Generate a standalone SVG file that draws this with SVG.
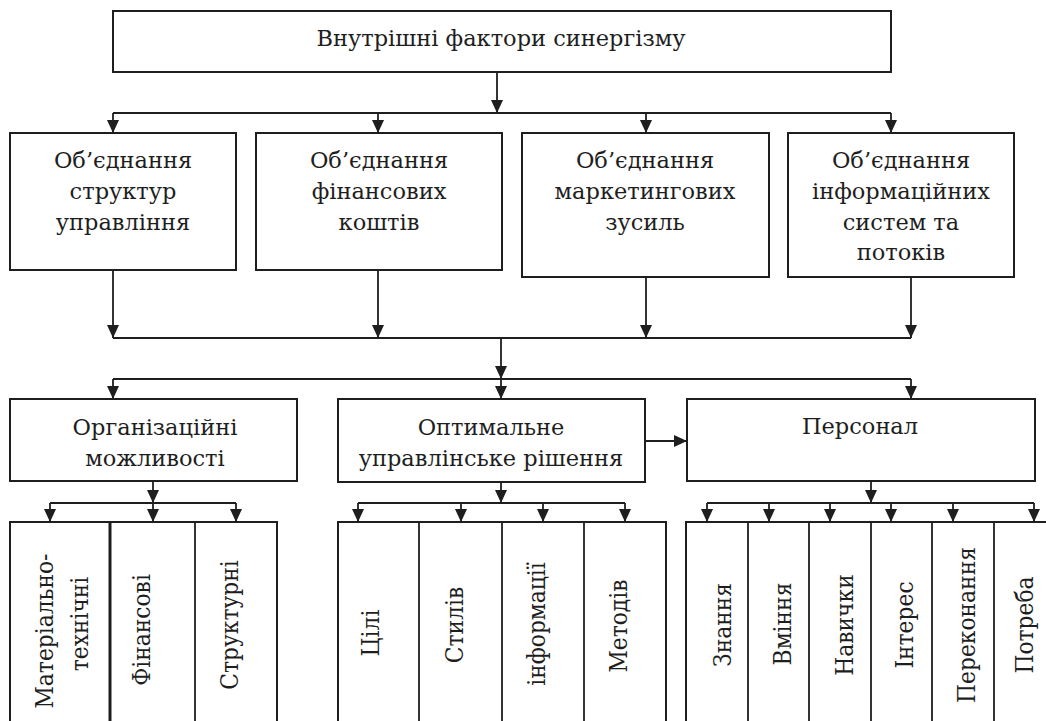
<svg xmlns="http://www.w3.org/2000/svg" width="1046" height="721" viewBox="0 0 1046 721">
<defs>
<marker id="ah" markerWidth="13" markerHeight="12" viewBox="0 0 13 12" refX="13" refY="6" orient="auto" markerUnits="userSpaceOnUse">
<path d="M0,0 L13,6 L0,12 Z" fill="#1e1e1e"/>
</marker>
<style>
.box{fill:#fff;stroke:#1e1e1e;stroke-width:2}
.ln{fill:none;stroke:#1e1e1e;stroke-width:1.8}
.arr{fill:none;stroke:#1e1e1e;stroke-width:1.8;marker-end:url(#ah)}
.t{font-family:'DejaVu Serif','Liberation Serif',serif;font-size:22.5px;fill:#1e1e1e;text-anchor:middle}
.v{font-family:'DejaVu Serif','Liberation Serif',serif;font-size:24.5px;fill:#1e1e1e;text-anchor:middle}
</style>
</defs>
<rect width="1046" height="721" fill="#fff"/>

<g id="connectors">
<path class="arr" d="M497,72 V113"/>
<path class="ln" d="M113,113 H891"/>
<path class="arr" d="M113,113 V133"/>
<path class="arr" d="M378,113 V133"/>
<path class="arr" d="M646,113 V133"/>
<path class="arr" d="M891,113 V133"/>
<path class="arr" d="M113,270 V338"/>
<path class="arr" d="M378,270 V338"/>
<path class="arr" d="M646,277 V338"/>
<path class="arr" d="M911,277 V338"/>
<path class="ln" d="M113,338 H911"/>
<path class="arr" d="M501,338 V379"/>
<path class="arr" d="M501,379 V399"/>
<path class="ln" d="M113,379 H911"/>
<path class="arr" d="M113,379 V399"/>
<path class="arr" d="M911,379 V399"/>
<path class="arr" d="M645,441 H687"/>
<path class="arr" d="M153,481 V503"/>
<path class="ln" d="M50,503 H236"/>
<path class="arr" d="M50,503 V522"/>
<path class="arr" d="M153,503 V522"/>
<path class="arr" d="M236,503 V522"/>
<path class="arr" d="M501,482 V503"/>
<path class="ln" d="M358,503 H625"/>
<path class="arr" d="M358,503 V522"/>
<path class="arr" d="M461,503 V522"/>
<path class="arr" d="M543,503 V522"/>
<path class="arr" d="M625,503 V522"/>
<path class="arr" d="M871,481 V503"/>
<path class="ln" d="M707,503 H1034"/>
<path class="arr" d="M707,503 V522"/>
<path class="arr" d="M769,503 V522"/>
<path class="arr" d="M830,503 V522"/>
<path class="arr" d="M891,503 V522"/>
<path class="arr" d="M953,503 V522"/>
<path class="arr" d="M1034,503 V522"/>
</g>

<g id="n-title">
<rect class="box" x="113" y="11" width="778" height="61"/>
<text class="t" x="501" y="46">Внутрішні фактори синергізму</text>
</g>

<g id="n-struct">
<rect class="box" x="10" y="133" width="226" height="137"/>
<text class="t" x="123" y="168">Об’єднання</text>
<text class="t" x="123" y="199">структур</text>
<text class="t" x="123" y="230">управління</text>
</g>
<g id="n-fin">
<rect class="box" x="256" y="133" width="246" height="137"/>
<text class="t" x="379" y="168">Об’єднання</text>
<text class="t" x="379" y="199">фінансових</text>
<text class="t" x="379" y="230">коштів</text>
</g>
<g id="n-mark">
<rect class="box" x="522" y="133" width="247" height="144"/>
<text class="t" x="645" y="168">Об’єднання</text>
<text class="t" x="645" y="199">маркетингових</text>
<text class="t" x="645" y="230">зусиль</text>
</g>
<g id="n-info">
<rect class="box" x="788" y="133" width="226" height="144"/>
<text class="t" x="901" y="168">Об’єднання</text>
<text class="t" x="901" y="199">інформаційних</text>
<text class="t" x="901" y="230">систем та</text>
<text class="t" x="901" y="260">потоків</text>
</g>

<g id="n-org">
<rect class="box" x="10" y="399" width="287" height="82"/>
<text class="t" x="155" y="435">Організаційні</text>
<text class="t" x="155" y="466">можливості</text>
</g>
<g id="n-opt">
<rect class="box" x="338" y="399" width="307" height="83"/>
<text class="t" x="491" y="435">Оптимальне</text>
<text class="t" x="491" y="466">управлінське рішення</text>
</g>
<g id="n-pers">
<rect class="box" x="687" y="399" width="348" height="82"/>
<text class="t" x="860" y="434">Персонал</text>
</g>

<g id="n-org-cols">
<rect class="box" x="10" y="522" width="267" height="220"/>
<path class="ln" d="M110,522 V721" style="stroke-width:3"/>
<path class="ln" d="M195,522 V721"/>
<text class="v" transform="translate(53,631) rotate(-90) scale(0.89,1)">Матеріально-</text>
<text class="v" transform="translate(88,624) rotate(-90) scale(0.89,1)">технічні</text>
<text class="v" transform="translate(150,630) rotate(-90) scale(0.89,1)">Фінансові</text>
<text class="v" transform="translate(238,625) rotate(-90) scale(0.89,1)">Структурні</text>
</g>

<g id="n-opt-cols">
<rect class="box" x="338" y="522" width="328" height="220"/>
<path class="ln" d="M419,522 V721"/>
<path class="ln" d="M502,522 V721"/>
<path class="ln" d="M584,522 V721"/>
<text class="v" transform="translate(379,633) rotate(-90) scale(0.89,1)">Цілі</text>
<text class="v" transform="translate(463,625) rotate(-90) scale(0.89,1)">Стилів</text>
<text class="v" transform="translate(545,624) rotate(-90) scale(0.89,1)">інформації</text>
<text class="v" transform="translate(627,626) rotate(-90) scale(0.89,1)">Методів</text>
</g>

<g id="n-pers-cols">
<rect class="box" x="686" y="522" width="380" height="220"/>
<path class="ln" d="M748,522 V721"/>
<path class="ln" d="M809,522 V721"/>
<path class="ln" d="M871,522 V721"/>
<path class="ln" d="M932,522 V721"/>
<path class="ln" d="M994,522 V721"/>
<text class="v" transform="translate(731,625) rotate(-90) scale(0.89,1)">Знання</text>
<text class="v" transform="translate(791,624) rotate(-90) scale(0.89,1)">Вміння</text>
<text class="v" transform="translate(853,625) rotate(-90) scale(0.89,1)">Навички</text>
<text class="v" transform="translate(913,625) rotate(-90) scale(0.89,1)">Інтерес</text>
<text class="v" transform="translate(975,625) rotate(-90) scale(0.89,1)">Переконання</text>
<text class="v" transform="translate(1033,625) rotate(-90) scale(0.89,1)">Потреба</text>
</g>
</svg>
